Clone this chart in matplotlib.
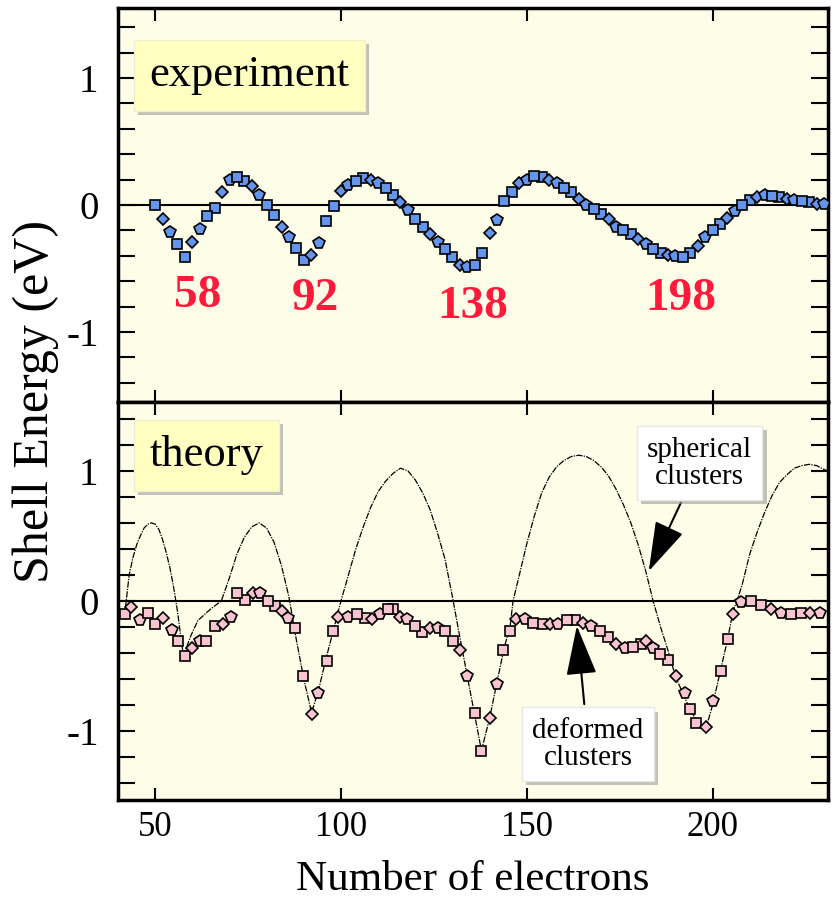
import numpy as np
import matplotlib
matplotlib.use("Agg")
import matplotlib.pyplot as plt
from matplotlib import patheffects

plt.rcParams['font.family'] = ['Liberation Serif', 'DejaVu Serif']

# experiment: shell energy every 2 electrons from 50 to 230
exp_n = list(range(50, 231, 2))
exp_e = [0.00, -0.11, -0.21, -0.31, -0.41, -0.29, -0.19, -0.09, -0.02, 0.10,
         0.20, 0.22, 0.19, 0.15, 0.08, 0.00, -0.08, -0.17, -0.25, -0.34,
         -0.43, -0.39, -0.30, -0.13, -0.01, 0.11, 0.16, 0.19, 0.21, 0.20,
         0.17, 0.13, 0.08, 0.02, -0.04, -0.11, -0.17, -0.23, -0.29, -0.35,
         -0.41, -0.47, -0.49, -0.47, -0.38, -0.22, -0.12, 0.03, 0.10, 0.17,
         0.20, 0.23, 0.22, 0.20, 0.17, 0.13, 0.10, 0.05, 0.00, -0.03,
         -0.07, -0.11, -0.17, -0.20, -0.23, -0.27, -0.31, -0.35, -0.38, -0.39,
         -0.40, -0.41, -0.38, -0.32, -0.25, -0.20, -0.15, -0.10, -0.05, 0.00,
         0.04, 0.06, 0.08, 0.07, 0.06, 0.05, 0.04, 0.03, 0.02, 0.01,
         0.01]

magic = ['58', '92', '138', '198']

# theory, deformed clusters
def_n = [41.9, 43.6, 45.9, 48.1, 49.9, 52.2, 54.4, 56.2, 58.0, 59.8,
         62.0, 63.8, 66.0, 68.3, 70.5, 71.9, 74.1, 76.3, 78.1, 80.4,
         82.2, 84.0, 85.8, 87.6, 89.9, 92.1, 93.9, 96.2, 97.9, 99.3,
         102.0, 104.2, 106.5, 108.3, 110.5, 112.7, 114.1, 115.9, 117.7, 119.9,
         121.7, 124.0, 126.2, 128.0, 130.2, 132.0, 133.8, 136.0, 137.8, 140.0,
         141.9, 143.6, 145.4, 147.2, 149.5, 151.7, 154.0, 156.2, 158.4, 160.7,
         162.9, 165.1, 167.4, 169.6, 171.9, 174.1, 176.3, 178.6, 180.8, 182.2,
         184.0, 185.8, 188.0, 190.2, 192.5, 193.8, 195.6, 198.3, 200.1, 202.3,
         204.1, 205.5, 207.7, 210.4, 213.1, 215.8, 218.5, 221.2, 223.8, 226.1,
         228.8]
def_e = [-0.10, -0.05, -0.15, -0.09, -0.18, -0.13, -0.22, -0.31, -0.42, -0.36,
         -0.31, -0.31, -0.19, -0.18, -0.12, 0.06, 0.01, 0.06, 0.06, 0.00,
         -0.04, -0.08, -0.13, -0.21, -0.58, -0.87, -0.71, -0.46, -0.23, -0.12,
         -0.12, -0.10, -0.13, -0.14, -0.10, -0.06, -0.06, -0.12, -0.14, -0.19,
         -0.24, -0.21, -0.21, -0.23, -0.31, -0.38, -0.58, -0.86, -1.15, -0.90,
         -0.64, -0.38, -0.23, -0.14, -0.14, -0.17, -0.18, -0.18, -0.18, -0.15,
         -0.15, -0.17, -0.19, -0.23, -0.28, -0.33, -0.36, -0.35, -0.33, -0.31,
         -0.36, -0.41, -0.45, -0.58, -0.71, -0.83, -0.94, -0.97, -0.77, -0.54,
         -0.29, -0.10, -0.01, 0.00, -0.03, -0.06, -0.09, -0.10, -0.09, -0.09,
         -0.09]

# theory, spherical clusters
sph_n = [42, 43, 44, 45, 46, 47, 48, 49, 50, 51, 52, 53, 54, 55, 56, 57, 57.6,
         59.7, 61.5, 65, 67.8, 70, 72, 74, 76, 78, 80, 82, 84, 86, 88, 90, 92.1,
         94, 96, 98, 100, 101, 102, 104, 106, 108, 110, 112, 114, 116, 118, 120,
         122, 124, 126, 128, 130, 132, 134, 136, 137.8, 140, 142, 144, 145.5,
         146.3, 148, 150, 152, 154, 156, 158, 160, 162, 164, 166, 168, 170, 172,
         174, 176, 178, 180, 182, 184, 186, 188, 190, 192, 194, 196, 198.3, 200,
         202, 204, 205.5, 207, 208, 210, 212, 214, 216, 218, 220, 222, 224, 226,
         228, 230, 231]
sph_e = [-0.05, 0.20, 0.33, 0.43, 0.50, 0.56, 0.59, 0.60, 0.59, 0.55, 0.47, 0.37,
         0.25, 0.10, -0.08, -0.30, -0.42,
         -0.26, -0.15, -0.06, 0.00, 0.18, 0.36, 0.49, 0.57, 0.60, 0.56, 0.45,
         0.27, 0.03, -0.30, -0.60, -0.86,
         -0.68, -0.44, -0.22, 0.00, 0.10, 0.20, 0.40, 0.57, 0.72, 0.84, 0.92,
         0.98, 1.02, 1.00, 0.93, 0.83, 0.70, 0.52, 0.32, 0.03, -0.28, -0.58,
         -0.88, -1.15, -0.90, -0.62, -0.35, -0.20,
         0.00, 0.20, 0.44, 0.65, 0.83, 0.95, 1.03, 1.08, 1.11, 1.12, 1.11, 1.08,
         1.03, 0.96, 0.86, 0.74, 0.60, 0.43, 0.23, 0.00, -0.20, -0.38, -0.58,
         -0.71, -0.84, -0.93, -0.97, -0.80, -0.55, -0.30, -0.08, 0.04, 0.13,
         0.36, 0.53, 0.68, 0.81, 0.91, 0.97, 1.02, 1.04, 1.05, 1.04, 1.01, 1.00]

# mixed marker shapes, as in the scanned figure
markers = [('s', 7.5), ('D', 6.5), ('p', 8.5), ('s', 7.5)]
bg = '#fefde8'

fig = plt.figure(figsize=(8.37, 9.01), dpi=100)
ax1 = fig.add_axes([0.141, 0.554, 0.848, 0.437])
ax2 = fig.add_axes([0.141, 0.112, 0.848, 0.442])


def style_axis(ax, ylim):
    ax.set_facecolor(bg)
    ax.set_xlim(40, 231)
    ax.set_ylim(*ylim)
    ax.axhline(0, color='black', lw=1.5, zorder=1)
    ax.set_xticks([50, 100, 150, 200])
    yt = np.round(np.arange(-1.4, 1.41, 0.2), 1)
    ax.set_yticks(yt)
    ax.set_yticklabels(['%d' % v if abs(v - round(v)) < 1e-6 else '' for v in yt])
    ax.tick_params(axis='x', direction='in', length=9, width=1.5, top=True,
                   labelsize=25, pad=8)
    ax.tick_params(axis='y', direction='in', length=12, width=1.5, right=True,
                   labelsize=28, pad=14)
    for s in ax.spines.values():
        s.set_linewidth(2.5)


def shadow(patch):
    patch.set_path_effects(
        [patheffects.withSimplePatchShadow(offset=(3, -3), shadow_rgbFace='#999999', alpha=0.6)])


def label_box(ax, x, y, txt, size):
    t = ax.text(x, y, txt, fontsize=size, ha='left', va='center', zorder=6,
                bbox=dict(boxstyle='square,pad=0.35', fc='#ffffc2', ec='#f0f0d0', lw=1))
    shadow(t.get_bbox_patch())


# top panel: experiment
style_axis(ax1, (-1.55, 1.55))
ax1.tick_params(axis='x', labelbottom=False)
for i, (m, ms) in enumerate(markers):
    ax1.plot(exp_n[i::4], exp_e[i::4], ls='none', marker=m, ms=ms,
             mfc='#6495ed', mec='black', mew=1.2, zorder=4)
label_box(ax1, 48.5, 1.02, 'experiment', 32)
for lab, (x, y) in zip(magic, [(61.5, -0.72), (93, -0.74), (135.5, -0.80), (191.5, -0.74)]):
    ax1.text(x, y, lab, color='#ff1a3c', fontsize=34, fontweight='bold',
             ha='center', va='center')

# bottom panel: theory
style_axis(ax2, (-1.53, 1.53))
ax2.plot(sph_n, sph_e, color='black', lw=0.9, ls=(0, (5, 1, 1, 1)), zorder=3)
for i, (m, ms) in enumerate(markers):
    ax2.plot(def_n[i::4], def_e[i::4], ls='none', marker=m, ms=ms,
             mfc='#f8c4d0', mec='black', mew=1.2, zorder=4)
label_box(ax2, 48.5, 1.12, 'theory', 32)

for txt, xy, xytext in [('spherical\nclusters', (182.5, 0.21), (196.5, 1.06)),
                        ('deformed\nclusters', (163.4, -0.17), (166.5, -1.10))]:
    a = ax2.annotate(txt, xy=xy, xytext=xytext, fontsize=21, ha='center', va='center',
                     linespacing=1.05, zorder=6,
                     bbox=dict(boxstyle='square,pad=0.35', fc='white', ec='#e8e8e8', lw=1),
                     arrowprops=dict(arrowstyle='-|>,head_length=1.3,head_width=0.4',
                                     color='black', lw=1.5, mutation_scale=24))
    shadow(a.get_bbox_patch())

ax2.set_xlabel('Number of electrons', fontsize=31, labelpad=12)
fig.text(0.043, 0.554, 'Shell Energy (eV)', rotation=90, fontsize=36,
         ha='center', va='center')

fig.savefig('out.png', dpi=100)
